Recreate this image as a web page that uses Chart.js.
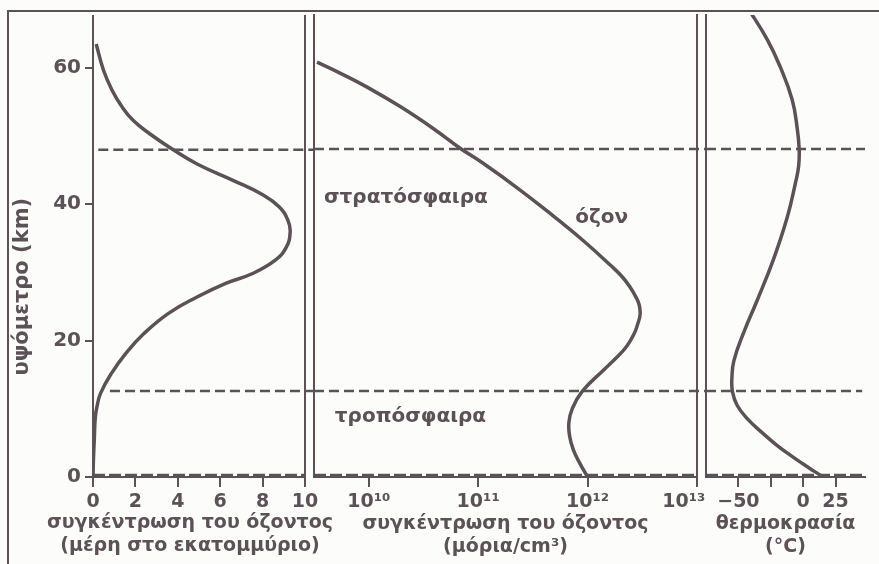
<!DOCTYPE html>
<html>
<head>
<meta charset="utf-8">
<script src="https://cdn.jsdelivr.net/npm/chart.js@4.4.1/dist/chart.umd.min.js"></script>
<style>
  html, body { margin: 0; padding: 0; background: #fcfcfa; }
  #wrap { position: relative; width: 879px; height: 564px; overflow: hidden; }
  #wrap canvas { position: absolute; left: 0; top: 0; }
  #frame { position: absolute; left: 7px; top: 10px; right: 0; bottom: 0;
           border-left: 2px solid #5b5257; border-top: 2px solid #5b5257; }
</style>
</head>
<body>
<div id="wrap">
  <div id="frame"></div>
  <canvas id="ppmChart" width="879" height="564"></canvas>
  <canvas id="densityChart" width="879" height="564"></canvas>
  <canvas id="tempChart" width="879" height="564"></canvas>
</div>
<script>
// altitude axis (km)
const heightTicks = [0, 20, 40, 60];
const heightLabels = ['0', '20', '40', '60'];

// left panel: ozone, parts per million
const ppmTicks = [0, 2, 4, 6, 8, 10];
const ppmLabels = ['0', '2', '4', '6', '8', '10'];
const ppmValues  = [0, 0.02, 0.06, 0.11, 0.2, 0.36, 0.87, 1.54, 2.39, 3.56, 4.91, 6.26, 7.5, 8.6, 9.12, 9.3, 9.2, 8.79, 7.94, 6.6, 4.91, 3.73, 2.69, 1.89, 1.32, 0.9, 0.5, 0.15];
const ppmHeights = [0, 2.5, 5.4, 8.8, 10.5, 12.3, 15.2, 18.1, 21.0, 24.0, 26.4, 28.4, 29.8, 31.8, 33.7, 35.9, 37.6, 39.6, 41.5, 43.5, 45.9, 48.1, 50.3, 52.3, 54.5, 56.7, 59.6, 63.5];

// middle panel: ozone, molecules/cm3
const densityTicks = [1e10, 1e11, 1e12, 1e13];
const densityLabels = ['10¹⁰', '10¹¹', '10¹²', '10¹³    '];
const densityValues  = [1.0e12, 8.5e11, 7.4e11, 6.85e11, 6.75e11, 7.25e11, 8.9e11, 1.41e12, 1.82e12, 2.27e12, 2.67e12, 2.86e12, 3.02e12, 2.96e12, 2.75e12, 2.44e12, 2.07e12, 1.64e12, 9.1e11, 4.94e11, 2.37e11, 1.11e11, 6.84e10, 3.88e10, 1.94e10, 9.66e9, 5.47e9, 3.37e9];
const densityHeights = [0, 2.0, 4.0, 6.0, 8.0, 10.0, 12.5, 15.7, 17.4, 19.1, 21.0, 22.3, 23.8, 25.2, 26.4, 27.8, 29.3, 30.9, 34.6, 38.1, 42.1, 45.9, 48.1, 51.0, 54.2, 57.05, 59.1, 60.7];

// right panel: temperature, deg C
const tempTicks = [-50, -25, 0, 25];
const tempLabels = ['−50', '', '0', '25'];
const tempValues  = [15.4, 8, 0, -10, -20, -30, -43, -51, -54.6, -55, -53.5, -46, -35.4, -23, -12.3, -6, -3.5, -3.1, -4.6, -8.5, -17.7, -27.7, -44];
const tempHeights = [0, 0.9, 1.9, 3.2, 4.6, 6.2, 8.5, 10.5, 12.5, 14.5, 17, 21.1, 25.9, 31.8, 38, 43, 45.5, 48, 51, 55.2, 60, 64, 69];

// layer boundaries (km)
const stratopause = 48;
const tropopause = 12.6;
const ground = 0.2;

// region names in the middle panel
const regionLabels = ['στρατόσφαιρα', 'τροπόσφαιρα', 'όζον'];
const regionLabelX = [3.9e9, 4.9e9, 7.7e11];
const regionLabelY = [40.9, 8.8, 37.9];

const INK = '#5b5257';
const FONT = "'DejaVu Sans', sans-serif";
const Y_MAX = 67.6;

Chart.defaults.font.family = FONT;
Chart.defaults.font.weight = 'bold';
Chart.defaults.color = INK;
Chart.defaults.animation = false;
Chart.defaults.plugins.legend.display = false;
Chart.defaults.plugins.tooltip.enabled = false;

function curve(xs, ys) {
  return {
    data: xs.map((x, i) => ({ x: x, y: ys[i] })),
    borderColor: INK,
    borderWidth: 3.5,
    pointRadius: 0,
    tension: 0.45,
    fill: false
  };
}

function dashed(x0, x1, y, width, dash) {
  return {
    data: [{ x: x0, y: y }, { x: x1, y: y }],
    borderColor: INK,
    borderWidth: width,
    borderDash: dash,
    pointRadius: 0,
    tension: 0,
    clip: false
  };
}

function xAxis(type, min, max, ticks, labels, title) {
  return {
    type: type,
    min: min,
    max: max,
    afterBuildTicks: s => { s.ticks = ticks.map(v => ({ value: v })); },
    afterFit: s => { s.height = 87; },
    ticks: { callback: (v, i) => labels[i], font: { size: 19 }, padding: 4, maxRotation: 0, autoSkip: false },
    grid: { drawOnChartArea: false, tickLength: 10, color: INK, lineWidth: 2 },
    border: { color: INK, width: 2 },
    title: { display: !!title, text: title || '', font: { size: 19, lineHeight: 1.2 }, padding: { top: 0, bottom: 6 } }
  };
}

function edge(position) {
  return {
    type: 'linear',
    position: position,
    min: 0,
    max: Y_MAX,
    afterFit: s => { s.width = 0; },
    ticks: { display: false },
    grid: { display: false },
    border: { color: INK, width: 2 }
  };
}

// region names drawn at data positions
const regionText = {
  id: 'regionText',
  afterDatasetsDraw(chart) {
    const { ctx, scales: { x, y } } = chart;
    ctx.save();
    ctx.font = 'bold 20px ' + FONT;
    ctx.fillStyle = INK;
    ctx.textAlign = 'left';
    ctx.textBaseline = 'middle';
    regionLabels.forEach((t, i) => {
      ctx.fillText(t, x.getPixelForValue(regionLabelX[i]), y.getPixelForValue(regionLabelY[i]));
    });
    ctx.restore();
  }
};

// left-panel axis title is wider than its panel, so draw it without squeezing
const ppmTitleLines = ['συγκέντρωση του όζοντος', '(μέρη στο εκατομμύριο)'];
const wideTitle = {
  id: 'wideTitle',
  afterDraw(chart) {
    const { ctx, scales: { x } } = chart;
    const cx = (x.left + x.right) / 2 - 9;
    ctx.save();
    ctx.font = 'bold 19px ' + FONT;
    ctx.fillStyle = INK;
    ctx.textAlign = 'center';
    ctx.textBaseline = 'middle';
    ppmTitleLines.forEach((t, i) => {
      ctx.fillText(t, cx, x.bottom - 17.5 - 23 * (ppmTitleLines.length - 1 - i));
    });
    ctx.restore();
  }
};

new Chart(document.getElementById('ppmChart'), {
  type: 'line',
  data: {
    datasets: [
      curve(ppmValues, ppmHeights),
      dashed(0.25, 10.45, stratopause, 2.5, [10, 5]),
      dashed(0.8, 10.45, tropopause, 2.5, [10, 5]),
      dashed(0, 10, ground, 4, [12, 4])
    ]
  },
  options: {
    responsive: false,
    indexAxis: 'y',
    layout: { padding: { left: 0, right: 574, top: 15, bottom: 0 } },
    scales: {
      x: xAxis('linear', 0, 10, ppmTicks, ppmLabels, null),
      y: {
        type: 'linear',
        min: 0,
        max: Y_MAX,
        afterBuildTicks: s => { s.ticks = heightTicks.map(v => ({ value: v })); },
        afterFit: s => { s.width = 93; },
        ticks: { callback: (v, i) => heightLabels[i], font: { size: 20 }, padding: 4 },
        grid: { drawOnChartArea: false, tickLength: 8, color: INK, lineWidth: 2 },
        border: { color: INK, width: 2 },
        title: { display: true, text: 'υψόμετρο (km)' + ' '.repeat(11), font: { size: 21 }, padding: { top: 10 } }
      },
      yr: edge('right')
    }
  },
  plugins: [wideTitle]
});

new Chart(document.getElementById('densityChart'), {
  type: 'line',
  data: {
    datasets: [
      curve(densityValues, densityHeights),
      dashed(3.16e9, 1.2e13, stratopause, 2.5, [10, 5]),
      dashed(3.16e9, 1.2e13, tropopause, 2.5, [10, 5]),
      dashed(3.16e9, 1e13, ground, 4, [12, 4])
    ]
  },
  options: {
    responsive: false,
    indexAxis: 'y',
    layout: { padding: { left: 314, right: 182, top: 15, bottom: 0 } },
    scales: {
      x: xAxis('logarithmic', 3.16e9, 1e13, densityTicks, densityLabels,
        ['συγκέντρωση του όζοντος', '(μόρια/cm³)']),
      y: edge('left'),
      yr: edge('right')
    }
  },
  plugins: [regionText]
});

new Chart(document.getElementById('tempChart'), {
  type: 'line',
  data: {
    datasets: [
      curve(tempValues, tempHeights),
      dashed(-75, 47.7, stratopause, 2.5, [10, 5]),
      dashed(-75, 45.5, tropopause, 2.5, [10, 5]),
      dashed(-75, 47.7, ground, 4, [12, 4])
    ]
  },
  options: {
    responsive: false,
    indexAxis: 'y',
    layout: { padding: { left: 706, right: 14, top: 15, bottom: 0 } },
    scales: {
      x: xAxis('linear', -75, 47.7, tempTicks, tempLabels, ['θερμοκρασία', '(°C)']),
      y: edge('left')
    }
  }
});
</script>
</body>
</html>
